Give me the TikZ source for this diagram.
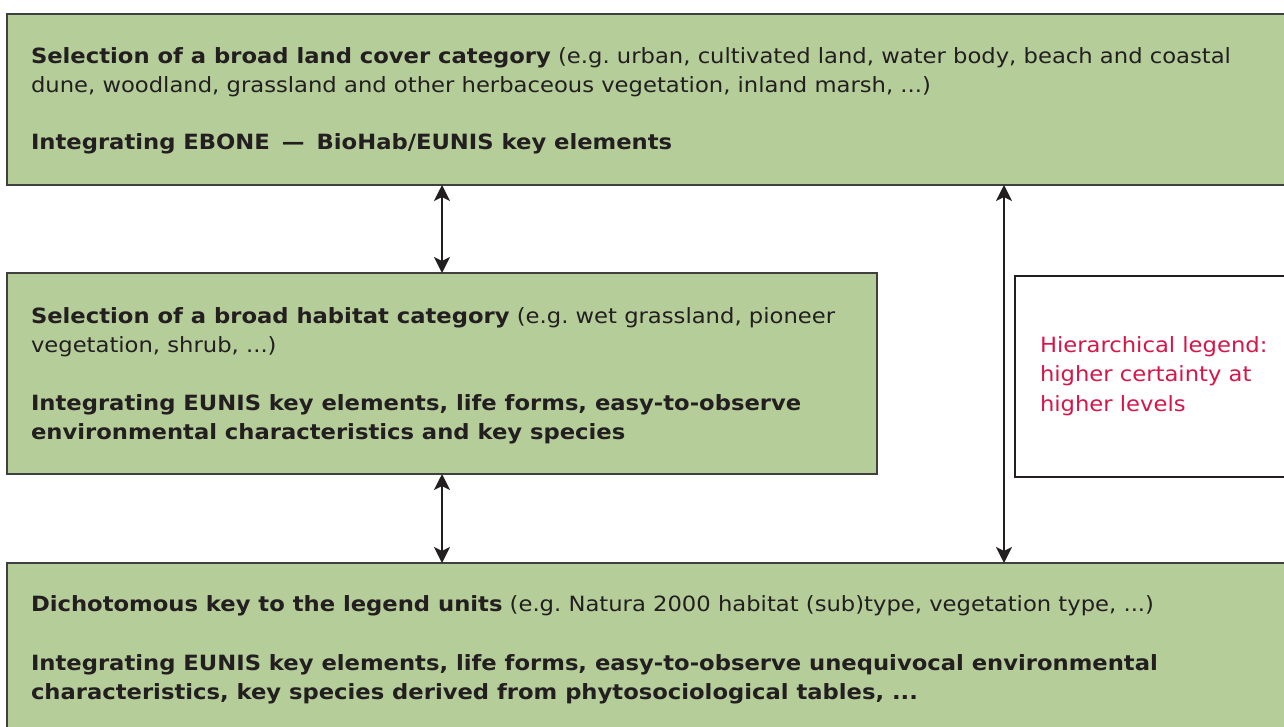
\documentclass[tikz,border=0pt]{standalone}
\usepackage{fontspec}
\setmainfont[FakeStretch=1.08]{DejaVu Sans}
\usetikzlibrary{arrows.meta}
\definecolor{boxgreen}{RGB}{181,205,153}
\definecolor{boxedge}{RGB}{64,64,64}
\definecolor{legred}{RGB}{214,22,72}
\definecolor{textdark}{RGB}{35,31,32}
\tikzset{
  greenbox/.style={draw=boxedge, fill=boxgreen, line width=1.4pt, inner sep=0pt, outer sep=0pt, anchor=north west},
  legbox/.style={draw=textdark, fill=white, line width=2pt, inner sep=0pt, outer sep=0pt, anchor=north west},
  txt/.style={anchor=base west, inner sep=0pt, outer sep=0pt, text=textdark, font=\fontsize{21}{24}\selectfont},
  redtxt/.style={txt, text=legred},
  biarrow/.style={line width=2.4pt, draw=textdark, fill=textdark, arrows={Stealth[length=16pt,width=16pt,inset=4pt]-Stealth[length=16pt,width=16pt,inset=4pt]}}
}
\begin{document}
\frenchspacing
\begin{tikzpicture}[x=1pt,y=-1pt]
\useasboundingbox[fill=white] (0,0) rectangle (1284,726);
% boxes
\node[greenbox, minimum width=1300pt, minimum height=171pt] (top) at (7,14) {};
\node[greenbox, minimum width=870pt, minimum height=201pt] (mid) at (7,273) {};
\node[greenbox, minimum width=1300pt, minimum height=180pt] (bot) at (7,563) {};
\node[legbox, minimum width=300pt, minimum height=201pt] (leg) at (1015,276) {};
% top text
\node[txt] (t1) at (31,63) {\textbf{Selection of a broad land cover category} (e.g. urban, cultivated land, water body, beach and coastal};
\node[txt] (t2) at (31,92.5) {dune, woodland, grassland and other herbaceous vegetation, inland marsh, ...)};
\node[txt] (t3) at (31,149.5) {\textbf{Integrating EBONE\hspace{12pt}—\hspace{12pt}BioHab/EUNIS key elements}};
% middle text
\node[txt] (m1) at (31,323) {\textbf{Selection of a broad habitat category} (e.g. wet grassland, pioneer};
\node[txt] (m2) at (31,352.5) {vegetation, shrub, ...)};
\node[txt] (m3) at (31,410.5) {\textbf{Integrating EUNIS key elements, life forms, easy-to-observe}};
\node[txt] (m4) at (31,439.5) {\textbf{environmental characteristics and key species}};
% bottom text
\node[txt] (b1) at (31,611.5) {\textbf{Dichotomous key to the legend units} (e.g. Natura 2000 habitat (sub)type, vegetation type, ...)};
\node[txt] (b2) at (31,670.5) {\textbf{Integrating EUNIS key elements, life forms, easy-to-observe unequivocal environmental}};
\node[txt] (b3) at (31,699.5) {\textbf{characteristics, key species derived from phytosociological tables, ...}};
% legend text
\node[redtxt] (r1) at (1040,352) {Hierarchical legend:};
\node[redtxt] (r2) at (1040,381.5) {higher certainty at};
\node[redtxt] (r3) at (1040,411) {higher levels};
% arrows
\draw[biarrow] (top.south -| mid.north) -- (mid.north);
\draw[biarrow] (mid.south) -- (mid.south |- bot.north);
\draw[biarrow] ([xshift=-11pt]top.south -| leg.west) -- ([xshift=-11pt]bot.north -| leg.west);
\end{tikzpicture}
\end{document}
